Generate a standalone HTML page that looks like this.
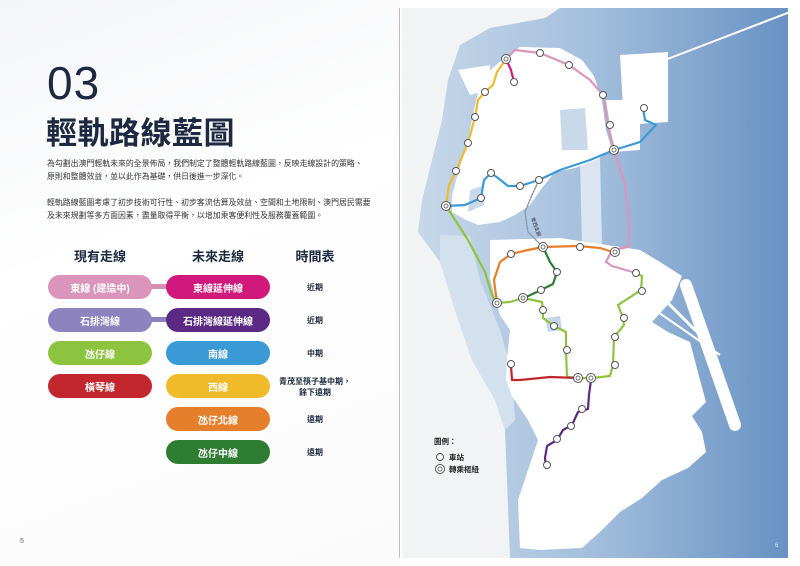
<!DOCTYPE html>
<html><head><meta charset="utf-8"><style>
*{margin:0;padding:0;box-sizing:border-box}
body{width:800px;height:566px;background:#fff;position:relative;overflow:hidden;font-family:"Liberation Sans","Noto Sans CJK TC",sans-serif;color:#1d2940}
.abs{position:absolute}
.pill{position:absolute;width:104px;height:24px;border-radius:12px;color:#fff;font-size:10px;font-weight:bold;display:flex;align-items:center;justify-content:center}
.t{position:absolute;width:80px;text-align:center;font-size:8px;font-weight:bold;line-height:11px}
.h{position:absolute;font-size:13px;font-weight:bold;width:100px;text-align:center}
p{font-size:7.9px;line-height:13px;color:#333;white-space:nowrap}
</style></head><body>
<div class="abs" style="left:0;top:0;width:400px;height:566px;background:linear-gradient(160deg,#f4f5f7,#fff 40%,#fbfbfc)"></div>
<div class="abs" style="left:399px;top:8px;width:1px;height:550px;background:#c9b3d6"></div>
<div class="abs" style="left:47px;top:56px;font-size:46px;font-weight:300;color:#1d2940;letter-spacing:1px">03</div>
<div class="abs" style="left:46px;top:108px;font-size:31px;font-weight:bold;letter-spacing:0.5px">輕軌路線藍圖</div>
<div class="abs" style="left:47px;top:157px;width:345px">
<p>為勾劃出澳門輕軌未來的全景佈局，我們制定了整體輕軌路線藍圖，反映走線設計的策略、<br>原則和整體效益，並以此作為基礎，供日後進一步深化。</p>
<p style="margin-top:13px">輕軌路線藍圖考慮了初步技術可行性、初步客流估算及效益、空間和土地限制、澳門居民需要<br>及未來規劃等多方面因素，盡量取得平衡，以增加乘客便利性及服務覆蓋範圍。</p>
</div>
<div class="h" style="left:50px;top:246px">現有走線</div>
<div class="h" style="left:168px;top:246px">未來走線</div>
<div class="h" style="left:265px;top:246px">時間表</div>
<div class="abs" style="left:150px;top:284px;width:20px;height:5px;background:#d98fb4"></div>
<div class="abs" style="left:150px;top:317px;width:20px;height:5px;background:#8b80bd"></div>
<div class="pill" style="left:48px;top:275px;background:#dc95ba">東線 (建造中)</div>
<div class="pill" style="left:48px;top:308px;background:#8d83bf">石排灣線</div>
<div class="pill" style="left:48px;top:341px;background:#8cc43f">氹仔線</div>
<div class="pill" style="left:48px;top:374px;background:#c1272d">橫琴線</div>
<div class="pill" style="left:166px;top:275px;background:#d0197a">東線延伸線</div>
<div class="pill" style="left:166px;top:308px;background:#5c2a84">石排灣線延伸線</div>
<div class="pill" style="left:166px;top:341px;background:#3a9ad6">南線</div>
<div class="pill" style="left:166px;top:374px;background:#efbb2b">西線</div>
<div class="pill" style="left:166px;top:407px;background:#e67f2c">氹仔北線</div>
<div class="pill" style="left:166px;top:440px;background:#2e7d32">氹仔中線</div>
<div class="t" style="left:275px;top:282px">近期</div>
<div class="t" style="left:275px;top:315px">近期</div>
<div class="t" style="left:275px;top:348px">中期</div>
<div class="t" style="left:265px;top:376px;width:100px">青茂至筷子基中期，<br>餘下遠期</div>
<div class="t" style="left:275px;top:414px">遠期</div>
<div class="t" style="left:275px;top:447px">遠期</div>
<div class="abs" style="left:20px;top:538px;font-size:7px;color:#666">5</div>

<svg class="abs" style="left:0;top:0" width="800" height="566" viewBox="0 0 800 566">
<defs><linearGradient id="w" x1="0" x2="1" y1="0" y2="0"><stop offset="0" stop-color="#cadaea"/><stop offset="0.5" stop-color="#a3bedc"/><stop offset="1" stop-color="#6892c3"/></linearGradient></defs>
<rect x="402" y="8" width="386" height="550" fill="url(#w)"/>
<path d="M402 8 L560 8 L545 18 L490 28 L460 45 L448 80 L442 120 L432 160 L422 200 L418 232 L440 262 L455 310 L472 360 L495 400 L505 430 L510 558 L402 558 Z" fill="#f2f3f5"/>
<path d="M440 235 L470 236 L480 280 L500 330 L512 372 L515 420 L505 430 L495 400 L472 360 L455 310 L440 262 Z" fill="#d3e0ee"/>
<path d="M488 72 L502 60 L520 47 L560 48 L582 60 L594 76 L602 100 L606 130 L612 150 L596 160 L575 168 L555 172 L542 188 L530 205 L515 215 L500 222 L478 225 L462 218 L452 212 L452 195 L459 170 L468 140 L474 110 L480 85 Z" fill="#fff"/>
<path d="M470 190 L482 186 L484 205 L468 212 Z" fill="#c9d9ea"/>
<path d="M458 70 L490 65 L488 90 L470 95 Z" fill="#fff"/>
<path d="M560 110 L585 108 L588 150 L562 150 Z" fill="#c9d9ea"/>
<path d="M620 55 L668 52 L668 122 L624 125 Z" fill="#fff"/>
<path d="M606 100 L640 100 L640 150 L614 152 Z" fill="#fff"/>
<path d="M580 160 L600 158 L602 245 L582 248 Z" fill="#fff" opacity="0.6"/>
<path d="M665 60 L790 12" stroke="#fff" stroke-width="2"/>
<path d="M490 240 L560 238 L600 244 L640 250 L660 262 L682 276 L672 300 L652 322 L668 332 L690 342 L700 380 L706 402 L692 416 L702 432 L706 452 L688 468 L662 480 L642 498 L620 512 L602 530 L582 548 L540 550 L520 548 L518 500 L528 470 L538 440 L528 420 L512 396 L506 380 L507 358 L510 330 L500 315 L495 298 L490 278 Z" fill="#fff"/>
<path d="M545 318 L560 316 L562 330 L548 332 Z" fill="#c5d6e9"/>
<path d="M686 285 L735 425" stroke="#fff" stroke-width="12" stroke-linecap="round"/>
<path d="M665 300 L700 335" stroke="#fff" stroke-width="3"/>
<path d="M655 310 L720 355" stroke="#fff" stroke-width="2"/>
<g fill="none" stroke-width="2.2" stroke-linecap="round" stroke-linejoin="round">
<path d="M506 59 L497 72 L493 85 L485 92 L478 100 L475 117 L468 143 L456 171 L449 185 L446 206" stroke="#efbb2b"/>
<path d="M506 59 L515 50 L540 53 L569 65 L590 80 L603 95 L608 125 L614 150 L625 185 L630 230 L628 247 L612 250 L606 262 L612 266 L636 273" stroke="#dc95ba"/>
<path d="M506 59 L511 70 L514 82" stroke="#d0197a"/>
<path d="M446 206 L465 205 L481 198 L484 180 L491 173 L498 178 L508 186 L520 186 L539 180 L560 170 L590 160 L614 150 L640 142 L656 125 L645 120 L643 108" stroke="#3a9ad6"/>
<path d="M446 206 L468 240 L485 272 L492 295 L497 303 L510 302 L523 298 L542 302 L543 310 L543 318 L554 326 L566 332 L566 350 L567 377 L578 378 L592 378 L610 376 L613 365 L614 337 L624 325 L623 318 L618 305 L632 296 L641 290 L642 276 L636 273" stroke="#8cc43f"/>
<path d="M497 303 L494 280 L500 262 L511 254 L528 250 L543 247 L578 246 L600 248 L613 252" stroke="#e67f2c"/>
<path d="M543 247 L550 262 L557 272 L553 284 L541 290 L524 298" stroke="#2e7d32"/>
<path d="M511 366 L512 380 L520 380 L550 377 L578 378" stroke="#c1272d"/>
<path d="M591 380 L589 395 L588 409 L578 412 L572 425 L563 430 L557 440 L547 446 L545 458 L546 468" stroke="#5c2a84"/>
<path d="M539 180 L532 195 L525 212 L528 232 L543 247" stroke="#8a9ab0" stroke-width="1.5" stroke-dasharray="1.5 1.5"/>
</g>
<g fill="#fff" stroke="#555" stroke-width="1">
<circle cx="540" cy="53" r="3.5"/><circle cx="569" cy="65" r="3.5"/><circle cx="514" cy="82" r="3.5"/><circle cx="485" cy="92" r="3.5"/><circle cx="475" cy="117" r="3.5"/><circle cx="468" cy="143" r="3.5"/><circle cx="456" cy="171" r="3.5"/>
<circle cx="481" cy="198" r="3.5"/><circle cx="491" cy="173" r="3.5"/><circle cx="520" cy="186" r="3.5"/><circle cx="539" cy="180" r="3.5"/>
<circle cx="603" cy="95" r="3.5"/><circle cx="610" cy="125" r="3.5"/><circle cx="644" cy="108" r="3.5"/>
<circle cx="511" cy="254" r="3.5"/><circle cx="580" cy="247" r="3.5"/><circle cx="557" cy="272" r="3.5"/><circle cx="541" cy="290" r="3.5"/>
<circle cx="636" cy="273" r="3.5"/><circle cx="642" cy="291" r="3.5"/><circle cx="624" cy="318" r="3.5"/><circle cx="615" cy="337" r="3.5"/><circle cx="615" cy="365" r="3.5"/>
<circle cx="543" cy="310" r="3.5"/><circle cx="554" cy="326" r="3.5"/><circle cx="567" cy="350" r="3.5"/>
<circle cx="511" cy="364" r="3.5"/><circle cx="582" cy="409" r="3.5"/><circle cx="571" cy="426" r="3.5"/><circle cx="557" cy="439" r="3.5"/><circle cx="547" cy="465" r="3.5"/>
<circle cx="440" cy="457" r="3.5"/>
</g>
<g fill="#fff" stroke="#555" stroke-width="1">
<circle cx="506" cy="59" r="4.5"/><circle cx="446" cy="206" r="4.5"/><circle cx="614" cy="150" r="4.5"/><circle cx="543" cy="247" r="4.5"/><circle cx="615" cy="252" r="4.5"/><circle cx="497" cy="303" r="4.5"/><circle cx="523" cy="298" r="4.5"/><circle cx="578" cy="378" r="4.5"/><circle cx="591" cy="378" r="4.5"/><circle cx="440" cy="469" r="4.5"/>
</g>
<g fill="none" stroke="#555" stroke-width="0.8">
<circle cx="506" cy="59" r="2"/><circle cx="446" cy="206" r="2"/><circle cx="614" cy="150" r="2"/><circle cx="543" cy="247" r="2"/><circle cx="615" cy="252" r="2"/><circle cx="497" cy="303" r="2"/><circle cx="523" cy="298" r="2"/><circle cx="578" cy="378" r="2"/><circle cx="591" cy="378" r="2"/><circle cx="440" cy="469" r="2"/>
</g>
<text x="531" y="218" font-size="5" fill="#334" transform="rotate(70 531 218)" font-family="Liberation Sans,Noto Sans CJK TC,sans-serif">東西走廊</text>
<g font-family="Liberation Sans,Noto Sans CJK TC,sans-serif" font-size="7.5" fill="#222" font-weight="bold">
<text x="434" y="444">圖例：</text>
<text x="449" y="460">車站</text>
<text x="449" y="472">轉乘樞紐</text>
</g>
<text x="775" y="547" font-size="6" fill="#dde6f0" font-family="Liberation Sans,sans-serif">6</text>
</svg>
</body></html>
